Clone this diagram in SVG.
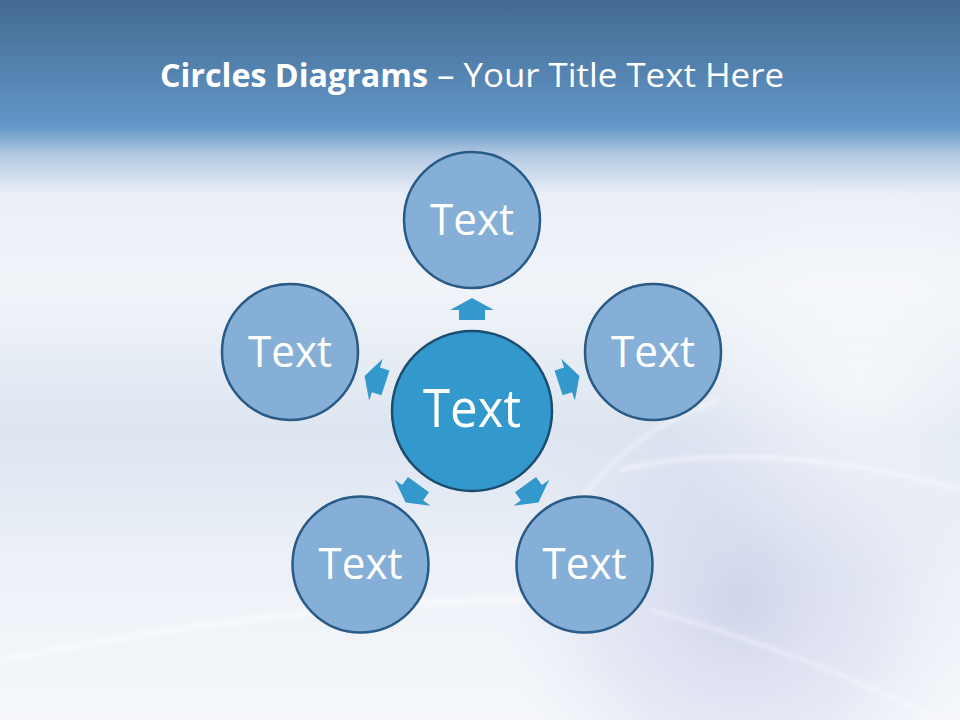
<svg xmlns="http://www.w3.org/2000/svg" width="960" height="720" viewBox="0 0 960 720">
  <defs>
    <linearGradient id="bg" x1="0" y1="0" x2="0" y2="1">
      <stop offset="0" stop-color="#436a91"/>
      <stop offset="0.17" stop-color="#6195c6"/>
      <stop offset="0.178" stop-color="#6698c8"/>
      <stop offset="0.215" stop-color="#b4c9e3"/>
      <stop offset="0.27" stop-color="#eaeff7"/>
      <stop offset="0.4" stop-color="#f1f4f9"/>
      <stop offset="0.6" stop-color="#dde5f0"/>
      <stop offset="0.8" stop-color="#eef2f8"/>
      <stop offset="1" stop-color="#f5f7fb"/>
    </linearGradient>
    <radialGradient id="lav" cx="740" cy="600" r="240" gradientUnits="userSpaceOnUse">
      <stop offset="0" stop-color="#c3c8e6" stop-opacity="0.7"/>
      <stop offset="0.6" stop-color="#cfd4ec" stop-opacity="0.35"/>
      <stop offset="1" stop-color="#dfe4f2" stop-opacity="0"/>
    </radialGradient>
    <radialGradient id="glow" cx="860" cy="380" r="200" gradientUnits="userSpaceOnUse">
      <stop offset="0" stop-color="#ffffff" stop-opacity="0.6"/>
      <stop offset="1" stop-color="#ffffff" stop-opacity="0"/>
    </radialGradient>
    <filter id="soft" x="-10%" y="-10%" width="120%" height="120%">
      <feGaussianBlur stdDeviation="2"/>
    </filter>
    <path id="arr" d="M0,-113 L22,-101 L13,-101 L13,-91 L-13,-91 L-13,-101 L-22,-101 Z"/>
  </defs>
  <style>
    .outer { fill: #86afd7; stroke: #2a5a86; stroke-width: 2.5; }
    .center { fill: #3398cc; stroke: #1d4d6e; stroke-width: 2.5; }
    .lbl { fill: #ffffff; font-family: "Open Sans", "Noto Sans", sans-serif; font-size: 44px; text-anchor: middle; }
    .lblc { fill: #ffffff; font-family: "Open Sans", "Noto Sans", sans-serif; font-size: 53px; text-anchor: middle; }
    .title { fill: #ffffff; font-family: "Open Sans", "Noto Sans", sans-serif; font-size: 33px; }
    .arrow { fill: #3399cc; }
    .swoosh { fill: none; stroke: #ffffff; stroke-opacity: 0.5; filter: url(#soft); }
  </style>

  <rect x="0" y="0" width="960" height="720" fill="url(#bg)"/>
  <rect x="0" y="200" width="960" height="520" fill="url(#lav)"/>
  <rect x="600" y="180" width="360" height="400" fill="url(#glow)"/>
  <path class="swoosh" stroke-width="4" d="M620,470 C700,450 820,450 960,490"/>
  <path class="swoosh" stroke-width="3" d="M580,500 C620,450 660,420 720,400"/>
  <path class="swoosh" stroke-width="6" stroke-opacity="0.4" d="M0,660 C200,620 420,595 600,600"/>
  <path class="swoosh" stroke-width="3" stroke="#b9c4f0" d="M650,610 C760,640 860,680 940,720"/>

  <text class="title" x="160" y="87" font-weight="bold" textLength="268" lengthAdjust="spacingAndGlyphs">Circles Diagrams</text>
  <text class="title" x="437" y="87" textLength="347" lengthAdjust="spacingAndGlyphs">– Your Title Text Here</text>

  <g id="connectors">
    <use href="#arr" class="arrow" transform="translate(472,411)"/>
    <use href="#arr" class="arrow" transform="translate(472,411) rotate(72)"/>
    <use href="#arr" class="arrow" transform="translate(472,411) rotate(144)"/>
    <use href="#arr" class="arrow" transform="translate(472,411) rotate(216)"/>
    <use href="#arr" class="arrow" transform="translate(472,411) rotate(288)"/>
  </g>

  <g id="node-center">
    <circle class="center" cx="472" cy="411" r="80"/>
    <text class="lblc" x="472" y="427" textLength="98" lengthAdjust="spacingAndGlyphs">Text</text>
  </g>
  <g id="node-top">
    <circle class="outer" cx="472" cy="220" r="68"/>
    <text class="lbl" x="472" y="235" textLength="84" lengthAdjust="spacingAndGlyphs">Text</text>
  </g>
  <g id="node-right">
    <circle class="outer" cx="653" cy="352" r="68"/>
    <text class="lbl" x="653" y="367" textLength="84" lengthAdjust="spacingAndGlyphs">Text</text>
  </g>
  <g id="node-bottom-right">
    <circle class="outer" cx="584.5" cy="564.5" r="68"/>
    <text class="lbl" x="584.5" y="579" textLength="84" lengthAdjust="spacingAndGlyphs">Text</text>
  </g>
  <g id="node-bottom-left">
    <circle class="outer" cx="360.5" cy="564.5" r="68"/>
    <text class="lbl" x="360.5" y="579" textLength="84" lengthAdjust="spacingAndGlyphs">Text</text>
  </g>
  <g id="node-left">
    <circle class="outer" cx="290" cy="352" r="68"/>
    <text class="lbl" x="290" y="367" textLength="84" lengthAdjust="spacingAndGlyphs">Text</text>
  </g>
</svg>
